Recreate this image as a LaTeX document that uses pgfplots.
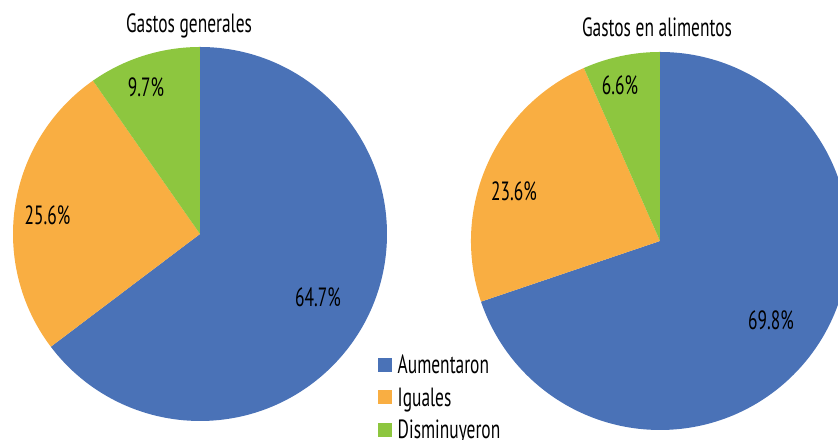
\documentclass[border=0pt]{standalone}
\usepackage{pgfplots}
\pgfplotsset{compat=1.18}
\usepackage{fontspec}
\setmainfont{PT Sans}[FakeStretch=0.66]

\definecolor{cBlue}{HTML}{4A72B7}
\definecolor{cOrange}{HTML}{F9AE42}
\definecolor{cGreen}{HTML}{8DC63F}

% shares (%): Aumentaron, Iguales, Disminuyeron
\def\genA{64.7}\def\genB{25.6}\def\genC{9.7}
\def\aliA{69.8}\def\aliB{23.6}\def\aliC{6.6}

% slice end angles, clockwise from 12 o'clock
\pgfmathsetmacro\gEA{90-3.6*\genA}
\pgfmathsetmacro\gEB{\gEA-3.6*\genB}
\pgfmathsetmacro\aEA{90-3.6*\aliA}
\pgfmathsetmacro\aEB{\aEA-3.6*\aliB}

\newcommand{\lblfont}{\fontsize{7.5}{9}\selectfont}

\begin{document}
\begin{tikzpicture}
\begin{axis}[
    scale only axis, width=8.38cm, height=4.40cm,
    xmin=0, xmax=838, ymin=0, ymax=440,
    hide axis,
    legend style={at={(0.4499,0.2085)}, anchor=north west, draw=none, fill=none,
        inner sep=0pt, row sep=0.01cm, font=\lblfont,
        nodes={inner xsep=0.06cm, inner ysep=0pt, text height=0.7em, text depth=0.2em}},
    legend cell align=left,
    legend image code/.code={\path[#1] (0cm,-0.07cm) rectangle (0.14cm,0.07cm);},
]
\addlegendimage{fill=cBlue, draw=none}\addlegendentry{Aumentaron}
\addlegendimage{fill=cOrange, draw=none}\addlegendentry{Iguales}
\addlegendimage{fill=cGreen, draw=none}\addlegendentry{Disminuyeron}

% Gastos generales
\fill[cBlue] (axis cs:200,206) -- ++(90:1.87cm) arc[start angle=90, end angle=\gEA, radius=1.87cm] -- cycle;
\fill[cOrange] (axis cs:200,206) -- ++(\gEA:1.87cm) arc[start angle=\gEA, end angle=\gEB, radius=1.87cm] -- cycle;
\fill[cGreen] (axis cs:200,206) -- ++(\gEB:1.87cm) arc[start angle=\gEB, end angle=-270, radius=1.87cm] -- cycle;

% Gastos en alimentos
\fill[cBlue] (axis cs:660,199) -- ++(90:1.89cm) arc[start angle=90, end angle=\aEA, radius=1.89cm] -- cycle;
\fill[cOrange] (axis cs:660,199) -- ++(\aEA:1.89cm) arc[start angle=\aEA, end angle=\aEB, radius=1.89cm] -- cycle;
\fill[cGreen] (axis cs:660,199) -- ++(\aEB:1.89cm) arc[start angle=\aEB, end angle=-270, radius=1.89cm] -- cycle;

\begin{scope}[every node/.style={font=\lblfont, inner sep=0pt}]
\node[anchor=base] at (axis cs:189,407) {Gastos generales};
\node[anchor=base] at (axis cs:657,403) {Gastos en alimentos};
\node at (axis cs:318,142.5) {\genA\%};
\node at (axis cs:47.5,225) {\genB\%};
\node at (axis cs:146,353) {\genC\%};
\node at (axis cs:771,120) {\aliA\%};
\node at (axis cs:514,249) {\aliB\%};
\node at (axis cs:620,355) {\aliC\%};
\end{scope}
\end{axis}
\pgfresetboundingbox
\path (current axis.south west) rectangle (current axis.north east);
\end{tikzpicture}
\end{document}
